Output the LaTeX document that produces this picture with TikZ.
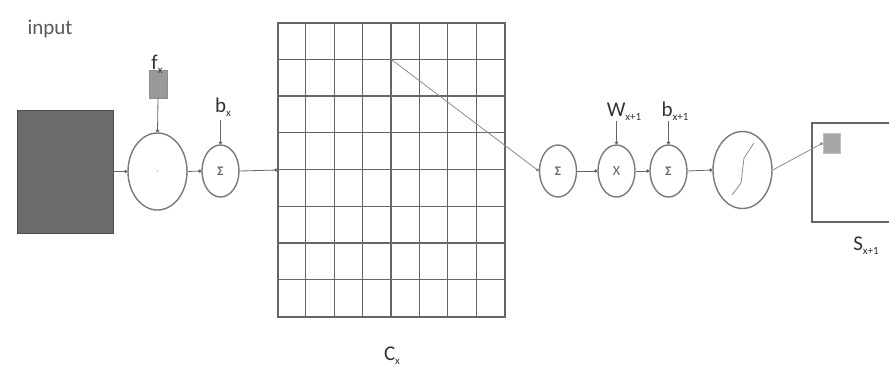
\documentclass[tikz,border=0pt]{standalone}
\usepackage{fontspec}
\setmainfont{Carlito}
\usetikzlibrary{arrows.meta,shapes.geometric}
\definecolor{linec}{HTML}{666666}
\definecolor{ellc}{HTML}{7a7a7a}
\definecolor{txtc}{HTML}{333333}
\newcommand{\lowsub}[1]{\raisebox{-4pt}{\fontsize{11}{11}\selectfont #1}}
\begin{document}
\begin{tikzpicture}[x=1pt,y=-1pt,
  op/.style={draw=ellc,line width=1.4pt,ellipse,inner sep=0pt,minimum width=37pt,minimum height=52pt,font=\fontsize{13}{13}\selectfont\bfseries,text=black!60},
  bigop/.style={op,minimum width=59pt,minimum height=77pt},
  conn/.style={draw=linec,line width=0.8pt,-{Circle[length=3.2pt]}},
  lab/.style={text=txtc,inner sep=0pt,anchor=base},
  labfont/.style={font=\fontsize{21}{21}\selectfont}]
\useasboundingbox (0,0) rectangle (889,373);
\fill[white] (0,0) rectangle (889,373);
% input label
\node[lab,labfont,text=black!65] (inlab) at (50,34) {input};
% input box
\node[draw=black!70,line width=1pt,fill=black!58,minimum width=96pt,minimum height=123pt,inner sep=0pt] (inbox) at (65,171.5) {};
% convolution ellipse
\node[bigop,text=black!40] (conv) at (157.5,171.5) {$\cdot$};
\node[draw=black!45,fill=black!40,minimum width=18pt,minimum height=28pt,inner sep=0pt] (fx) at (158,84) {};
\node[lab,labfont] (fxlab) at (157,69) {f\lowsub{x}};
% first sum
\node[op] (s1) at (220.5,171) {Σ};
\node[lab,labfont] (bxlab) at (223,112) {b\lowsub{x}};
\coordinate (bxend) at (220.5,120);
% grid C_x
\node[draw=black!60,line width=1.1pt,minimum width=227pt,minimum height=294pt,inner sep=0pt] (grid) at (391.5,170) {};
\foreach \i in {1,...,7} {
  \draw[black!60,line width=1.1pt] ([xshift=\i*28.375pt]grid.north west) -- ([xshift=\i*28.375pt]grid.south west);
  \draw[black!60,line width=1.1pt] ([yshift=-\i*36.75pt]grid.north west) -- ([yshift=-\i*36.75pt]grid.north east);
}
\coordinate (gpt) at ([xshift=4*28.375pt,yshift=-36.75pt]grid.north west);
\node[lab,labfont] (cxlab) at (392,360) {C\lowsub{x}};
% second stage
\node[op] (s2) at (558,171) {Σ};
\node[op,font=\fontsize{14}{14}\selectfont] (mul) at (616.5,171) {X};
\node[op] (s3) at (668.5,171) {Σ};
\node[bigop] (act) at (742.5,170) {};
\draw[black!45,line width=0.8pt] (732,195) -- (741,183) -- (744,158) -- (754,143);
\node[lab,labfont] (wlab) at (624,116) {W\lowsub{x+1}};
\node[lab,labfont] (b2lab) at (675,116) {b\lowsub{x+1}};
\coordinate (wend) at (616.5,121);
\coordinate (b2end) at (668.5,121);
% output
\draw[black!60,line width=1.2pt] (895,123) -- (812,123) -- (812,222) -- (895,222);
\node[fill=black!35,draw=black!25,minimum width=17pt,minimum height=20pt,inner sep=0pt] (sq) at (831.5,143) {};
\node[lab,labfont] (slab) at (866,250) {S\lowsub{x+1}};
% connectors
\draw[conn] (inbox.east) -- (conv.west);
\draw[conn] (fx.south) -- (conv.north);
\draw[conn] (conv.east) -- (s1.west);
\draw[conn] (bxend) -- (s1.north);
\draw[conn] (s1.east) -- (grid.west);
\draw[conn,draw=black!45] (gpt) -- (s2.west);
\draw[conn] (s2.east) -- (mul.west);
\draw[conn] (wend) -- (mul.north);
\draw[conn] (mul.east) -- (s3.west);
\draw[conn] (b2end) -- (s3.north);
\draw[conn] (s3.east) -- (act.west);
\draw[conn,draw=black!45] (act.east) -- (sq.west);
\end{tikzpicture}
\end{document}
